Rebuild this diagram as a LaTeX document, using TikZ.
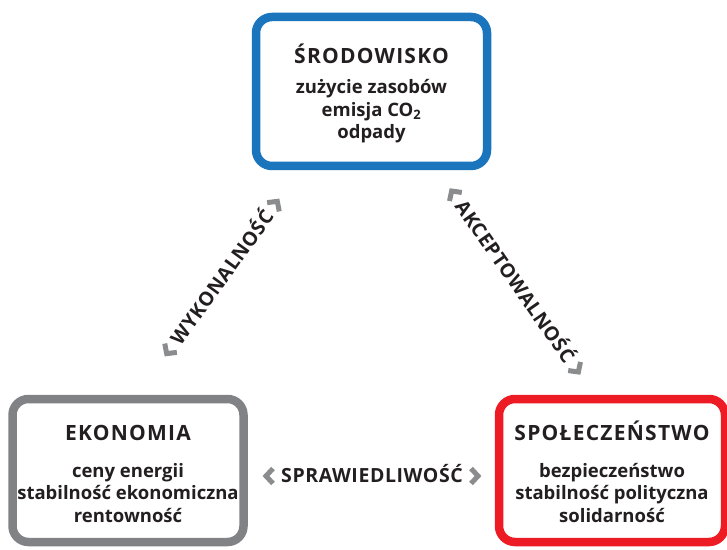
\documentclass[tikz,border=0pt]{standalone}
\usepackage{fontspec}
\setmainfont{Open Sans}
\usetikzlibrary{positioning}

\definecolor{envblue}{HTML}{1B75BC}
\definecolor{ecogray}{HTML}{808285}
\definecolor{socred}{HTML}{ED1C24}
\definecolor{txtdark}{HTML}{231F20}
\definecolor{chevgray}{HTML}{8A8C8E}

\tikzset{
  pillar/.style={draw, rectangle, rounded corners=16pt, line width=8.5pt, fill=white,
    align=center, text=txtdark, inner sep=0pt,
    font=\bfseries\fontsize{18.5}{22.5}\selectfont},
  relation/.style={font=\bfseries\fontsize{19.5}{19.5}\selectfont\addfontfeature{LetterSpace=3},
    text=txtdark, inner sep=0pt, text height=13.9pt, text depth=0pt},
  chevron/.style={draw=chevgray, line width=5pt, line join=miter},
}
\newcommand{\pillartitle}[2]{\rule{0pt}{#1}{\fontsize{21}{22.5}\selectfont\addfontfeature{LetterSpace=6}#2}}

\begin{document}
\begin{tikzpicture}[x=1pt, y=1pt]
    \useasboundingbox (0,0) rectangle (727,549);

    \node[pillar, draw=envblue, minimum width=231pt, minimum height=149pt] (srodowisko) at (371.5,457.5)
        {\pillartitle{24.3pt}{ŚRODOWISKO}\\[8.2pt] zużycie zasobów\\ emisja CO\textsubscript{2}\\ odpady\rule[-5pt]{0pt}{0pt}};
    \node[pillar, draw=ecogray, minimum width=231pt, minimum height=143pt] (ekonomia) at (128,78.5)
        {\pillartitle{26.7pt}{EKONOMIA}\\[14.5pt] ceny energii\\ stabilność ekonomiczna\\ rentowność\rule[-5pt]{0pt}{0pt}};
    \node[pillar, draw=socred, minimum width=226pt, minimum height=143pt, right=247pt of ekonomia] (spoleczenstwo)
        {\pillartitle{26.7pt}{SPOŁECZEŃSTWO}\\[14.5pt] bezpieczeństwo\\ stabilność polityczna\\ solidarność\rule[-5pt]{0pt}{0pt}};

    % relations between the pillars
    \begin{scope}[shift={(372,73)}]
        \node[relation] (sprawiedliwosc) at (0,0) {SPRAWIEDLIWOŚĆ};
        \draw[chevron] (sprawiedliwosc.west) ++(-8,7.5) -- ++(-7,-7.5) -- ++(7,-7.5);
        \draw[chevron] (sprawiedliwosc.east) ++(8,7.5) -- ++(7,-7.5) -- ++(-7,-7.5);
    \end{scope}
    \begin{scope}[shift={(222,271.5)}, rotate=54, transform shape]
        \node[relation] (wykonalnosc) at (0,0) {WYKONALNOŚĆ};
        \draw[chevron] (wykonalnosc.west) ++(-7,7.5) -- ++(-7,-7.5) -- ++(7,-7.5);
        \draw[chevron] (wykonalnosc.east) ++(7,7.5) -- ++(7,-7.5) -- ++(-7,-7.5);
    \end{scope}
    \begin{scope}[shift={(515,267.5)}, rotate=-55, transform shape]
        \node[relation] (akceptowalnosc) at (0,0) {AKCEPTOWALNOŚĆ};
        \draw[chevron] (akceptowalnosc.west) ++(-7,7.5) -- ++(-7,-7.5) -- ++(7,-7.5);
        \draw[chevron] (akceptowalnosc.east) ++(7,7.5) -- ++(7,-7.5) -- ++(-7,-7.5);
    \end{scope}
\end{tikzpicture}
\end{document}
